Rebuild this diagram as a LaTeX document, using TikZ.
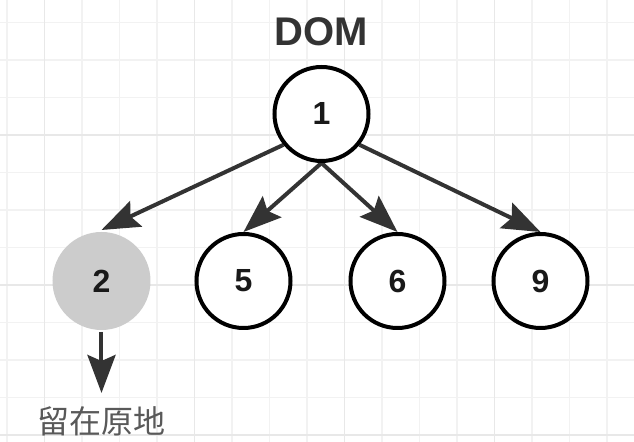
\documentclass[tikz,border=0pt]{standalone}
\usepackage{fontspec}
\setmainfont{Liberation Sans}
\newfontfamily\cjkfont{Noto Sans CJK SC}
\usepackage{tikz}
\usetikzlibrary{calc,backgrounds}
\usetikzlibrary{arrows.meta}
\definecolor{gridminor}{HTML}{F2F2F2}
\definecolor{gridmajor}{HTML}{E8E8E8}
\definecolor{edgegray}{HTML}{333333}
\definecolor{keptgray}{HTML}{CCCCCC}
\tikzstyle{domnode}=[
  draw,circle,line width=2pt,inner sep=0pt,minimum size=47pt,fill=white,
  font=\fontsize{16}{16}\selectfont\bfseries,text=black!90
]
\tikzstyle{keptnode}=[
  domnode,draw=none,fill=keptgray,minimum size=49pt
]
\tikzstyle{treetitle}=[
  font=\fontsize{20}{20}\selectfont\bfseries,text=edgegray
]
\tikzstyle{note}=[
  font=\cjkfont\fontsize{16}{16}\selectfont,text=black!65,inner sep=0pt
]
\tikzset{
  move/.style={-{Stealth[length=19pt,width=14pt,inset=3pt]},line width=2pt,draw=edgegray,fill=edgegray},
}

\begin{document}
\begin{tikzpicture}[x=0.5pt,y=-0.5pt]
        \useasboundingbox (0,0) rectangle (634,442);
        \def\lvl{167}
        \node (n1) at (321.5, 114) [domnode] {1};
        \node (dom) at ($(n1) + (0, -82)$) [treetitle] {DOM};
        \node (n2) at ($(n1) + (-220, \lvl)$) [keptnode] {2};
        \node (n5) at ($(n1) + (-78, \lvl)$) [domnode] {5};
        \node (n6) at ($(n1) + (76, \lvl)$) [domnode] {6};
        \node (n9) at ($(n1) + (219, \lvl)$) [domnode] {9};
        \coordinate (stayend) at ($(n2) + (0, 112)$);
        \node (stay) at ($(n2) + (0, 140)$) [note] {留在原地};

        \begin{scope}[on background layer]
          \fill [white] (0,0) rectangle (634,442);
          \foreach \gx in {0,...,16}
            \draw [gridminor, line width=0.75pt] (6.8+37.5*\gx, 0) -- (6.8+37.5*\gx, 442);
          \foreach \gy in {0,...,11}
            \draw [gridminor, line width=0.75pt] (0, 22.7+37.5*\gy) -- (634, 22.7+37.5*\gy);
          \foreach \gx in {44.3,194.3,344.3,494.3}
            \draw [gridmajor, line width=0.75pt] (\gx, 0) -- (\gx, 442);
          \foreach \gy in {135.2,285.2,435.2}
            \draw [gridmajor, line width=0.75pt] (0, \gy) -- (634, \gy);
        \end{scope}

        \begin{scope}[on background layer]
          \draw [move] (n1.219) -- (n2.north);
          \draw [move] (n1.south) -- (n5.north);
          \draw [move] (n1.south) -- (n6.north);
          \draw [move] (n1.321) -- (n9.north);
          \draw [move] (n2.south) -- (stayend);
        \end{scope}
\end{tikzpicture}
\end{document}
